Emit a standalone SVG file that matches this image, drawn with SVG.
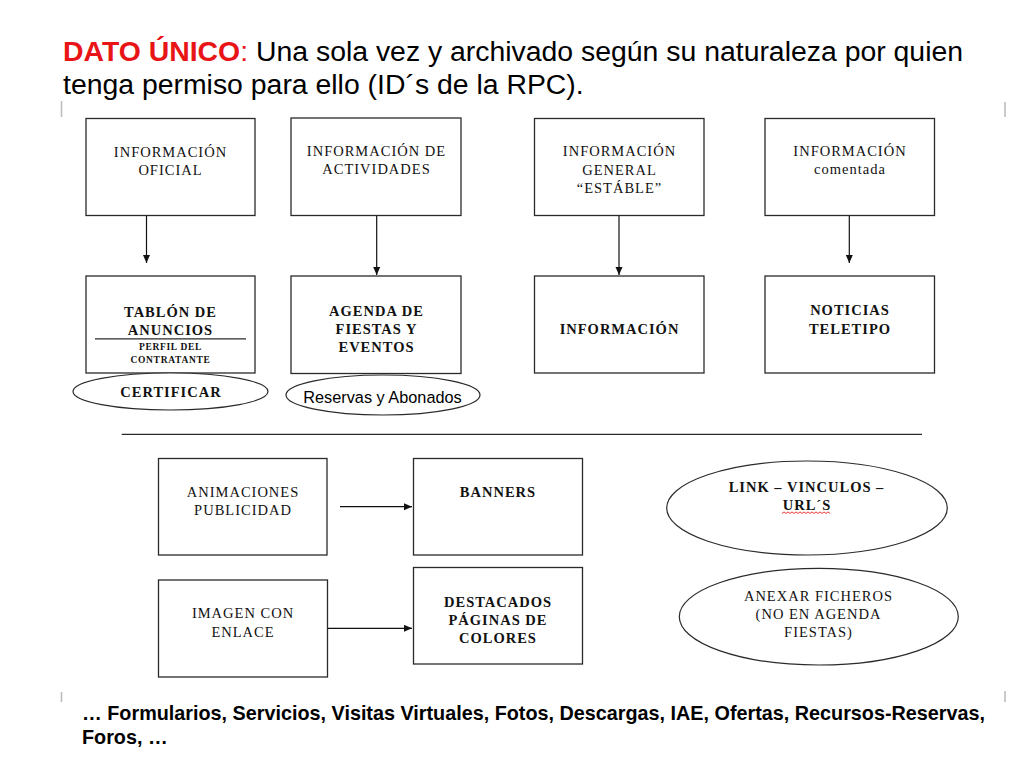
<svg xmlns="http://www.w3.org/2000/svg" width="1024" height="768" viewBox="0 0 1024 768">
<style>
.box{fill:#fff;stroke:#2a2a2a;stroke-width:1.3}
.ell{fill:#fff;stroke:#2a2a2a;stroke-width:1.2}
.t{font-family:"Liberation Serif","Times New Roman",serif;font-size:14.5px;letter-spacing:1px;fill:#111;text-anchor:middle}
.b{font-weight:bold}
.s{font-size:9.5px;letter-spacing:0.7px}
.hd{font-family:"Liberation Sans",Arial,sans-serif;font-size:28.4px;fill:#000}
.ft{font-family:"Liberation Sans",Arial,sans-serif;font-size:19.8px;font-weight:bold;fill:#000}
.conn{stroke:#111;stroke-width:1.2;fill:none}
.tick{stroke:#bdbdbd;stroke-width:1.6}
</style>
<defs>
<marker id="ah" markerUnits="userSpaceOnUse" markerWidth="9" markerHeight="8" refX="8" refY="3.5" orient="auto">
<path d="M0,0 L8,3.5 L0,7 z" fill="#111"/>
</marker>
</defs>
<rect width="1024" height="768" fill="#fff"/>

<g id="header">
<text class="hd" x="63" y="61"><tspan fill="#e81416" font-weight="bold">DATO ÚNICO</tspan><tspan fill="#e81416">:</tspan> Una sola vez y archivado según su naturaleza por quien</text>
<text class="hd" x="63" y="94">tenga permiso para ello (ID´s de la RPC).</text>
</g>

<g id="ticks">
<line class="tick" x1="61.5" y1="101" x2="61.5" y2="117"/>
<line class="tick" x1="1005" y1="102" x2="1005" y2="117"/>
<line class="tick" x1="61.5" y1="692" x2="61.5" y2="702"/>
<line class="tick" x1="1005" y1="691" x2="1005" y2="702"/>
</g>

<g id="connectors">
<line class="conn" x1="146.5" y1="215.5" x2="146.5" y2="263" marker-end="url(#ah)"/>
<line class="conn" x1="376.7" y1="215.5" x2="376.7" y2="275" marker-end="url(#ah)"/>
<line class="conn" x1="619" y1="215.5" x2="619" y2="275" marker-end="url(#ah)"/>
<line class="conn" x1="849.3" y1="215.5" x2="849.3" y2="263" marker-end="url(#ah)"/>
<line class="conn" x1="340" y1="506.7" x2="412" y2="506.7" marker-end="url(#ah)"/>
<line class="conn" x1="327.5" y1="628.3" x2="412" y2="628.3" marker-end="url(#ah)"/>
</g>

<g id="n-info-oficial">
<rect class="box" x="86" y="118.5" width="169" height="97"/>
<text class="t" x="170.5" y="157">INFORMACIÓN</text>
<text class="t" x="170.5" y="175">OFICIAL</text>
</g>
<g id="n-info-actividades">
<rect class="box" x="291" y="118" width="170" height="97.5"/>
<text class="t" x="376.5" y="156">INFORMACIÓN DE</text>
<text class="t" x="376.5" y="173.5">ACTIVIDADES</text>
</g>
<g id="n-info-general">
<rect class="box" x="534.5" y="118.5" width="169.5" height="97"/>
<text class="t" x="619.5" y="156">INFORMACIÓN</text>
<text class="t" x="619.5" y="175">GENERAL</text>
<text class="t" x="619.5" y="193">“ESTÁBLE”</text>
</g>
<g id="n-info-comentada">
<rect class="box" x="765" y="118.5" width="169.5" height="97"/>
<text class="t" x="850" y="156">INFORMACIÓN</text>
<text class="t" x="850" y="173.5" letter-spacing="0.5">comentada</text>
</g>

<g id="n-tablon">
<rect class="box" x="86" y="276" width="169" height="97"/>
<text class="t b" x="170.5" y="317">TABLÓN DE</text>
<text class="t b" x="170.5" y="334.5">ANUNCIOS</text>
<line x1="95" y1="338.8" x2="246" y2="338.8" stroke="#2a2a2a" stroke-width="1.2"/>
<text class="t b s" x="170.5" y="350">PERFIL DEL</text>
<text class="t b s" x="170.5" y="362.7">CONTRATANTE</text>
</g>
<g id="n-agenda">
<rect class="box" x="291" y="276" width="170" height="97.5"/>
<text class="t b" x="376.5" y="316">AGENDA DE</text>
<text class="t b" x="376.5" y="334">FIESTAS Y</text>
<text class="t b" x="376.5" y="352">EVENTOS</text>
</g>
<g id="n-informacion">
<rect class="box" x="534.5" y="276" width="169.5" height="97"/>
<text class="t b" x="619.5" y="333.5">INFORMACIÓN</text>
</g>
<g id="n-noticias">
<rect class="box" x="765" y="276" width="169.5" height="97"/>
<text class="t b" x="850" y="315">NOTICIAS</text>
<text class="t b" x="850" y="333.5">TELETIPO</text>
</g>

<g id="n-certificar">
<ellipse class="ell" cx="170.5" cy="391.5" rx="97.5" ry="18.5"/>
<text class="t b" x="171" y="397" font-size="15" letter-spacing="0.9">CERTIFICAR</text>
</g>
<g id="n-reservas">
<ellipse class="ell" cx="383" cy="395" rx="97" ry="20"/>
<text x="382.5" y="402.7" font-family="'Liberation Sans',Arial,sans-serif" font-size="16.3" fill="#000" text-anchor="middle">Reservas y Abonados</text>
</g>

<g id="separator">
<line x1="121.7" y1="434.3" x2="922" y2="434.3" stroke="#2a2a2a" stroke-width="1.3"/>
</g>

<g id="n-animaciones">
<rect class="box" x="158.5" y="458.5" width="168.5" height="96.5"/>
<text class="t" x="243" y="497.3">ANIMACIONES</text>
<text class="t" x="243" y="515">PUBLICIDAD</text>
</g>
<g id="n-banners">
<rect class="box" x="413.5" y="458.5" width="169" height="96.5"/>
<text class="t b" x="498" y="497.3">BANNERS</text>
</g>
<g id="n-imagen">
<rect class="box" x="158.5" y="580" width="169" height="97"/>
<text class="t" x="243" y="618.3">IMAGEN CON</text>
<text class="t" x="243" y="636.7">ENLACE</text>
</g>
<g id="n-destacados">
<rect class="box" x="413.5" y="567.5" width="169" height="96.5"/>
<text class="t b" x="498" y="606.7">DESTACADOS</text>
<text class="t b" x="498" y="625">PÁGINAS DE</text>
<text class="t b" x="498" y="643.3">COLORES</text>
</g>

<g id="n-link">
<ellipse class="ell" cx="807" cy="508" rx="140.3" ry="47"/>
<text class="t b" x="806.5" y="492">LINK – VINCULOS –</text>
<text class="t b" x="807" y="510" letter-spacing="0.5">URL´S</text>
<path d="M782,513.5 l2,-1.6 l2,1.6 l2,-1.6 l2,1.6 l2,-1.6 l2,1.6 l2,-1.6 l2,1.6 l2,-1.6 l2,1.6 l2,-1.6 l2,1.6 l2,-1.6 l2,1.6 l2,-1.6 l2,1.6 l2,-1.6 l2,1.6 l2,-1.6 l2,1.6 l2,-1.6 l2,1.6 l2,-1.6 l2,1.6" fill="none" stroke="#e02020" stroke-width="0.9"/>
</g>
<g id="n-anexar">
<ellipse class="ell" cx="818.8" cy="616.7" rx="139.5" ry="48.3"/>
<text class="t" x="818.5" y="601">ANEXAR FICHEROS</text>
<text class="t" x="818.5" y="619">(NO EN AGENDA</text>
<text class="t" x="818.5" y="636.7">FIESTAS)</text>
</g>

<g id="footer">
<text class="ft" x="82" y="720">… Formularios, Servicios, Visitas Virtuales, Fotos, Descargas, IAE, Ofertas, Recursos-Reservas,</text>
<text class="ft" x="82" y="744">Foros, …</text>
</g>
</svg>
